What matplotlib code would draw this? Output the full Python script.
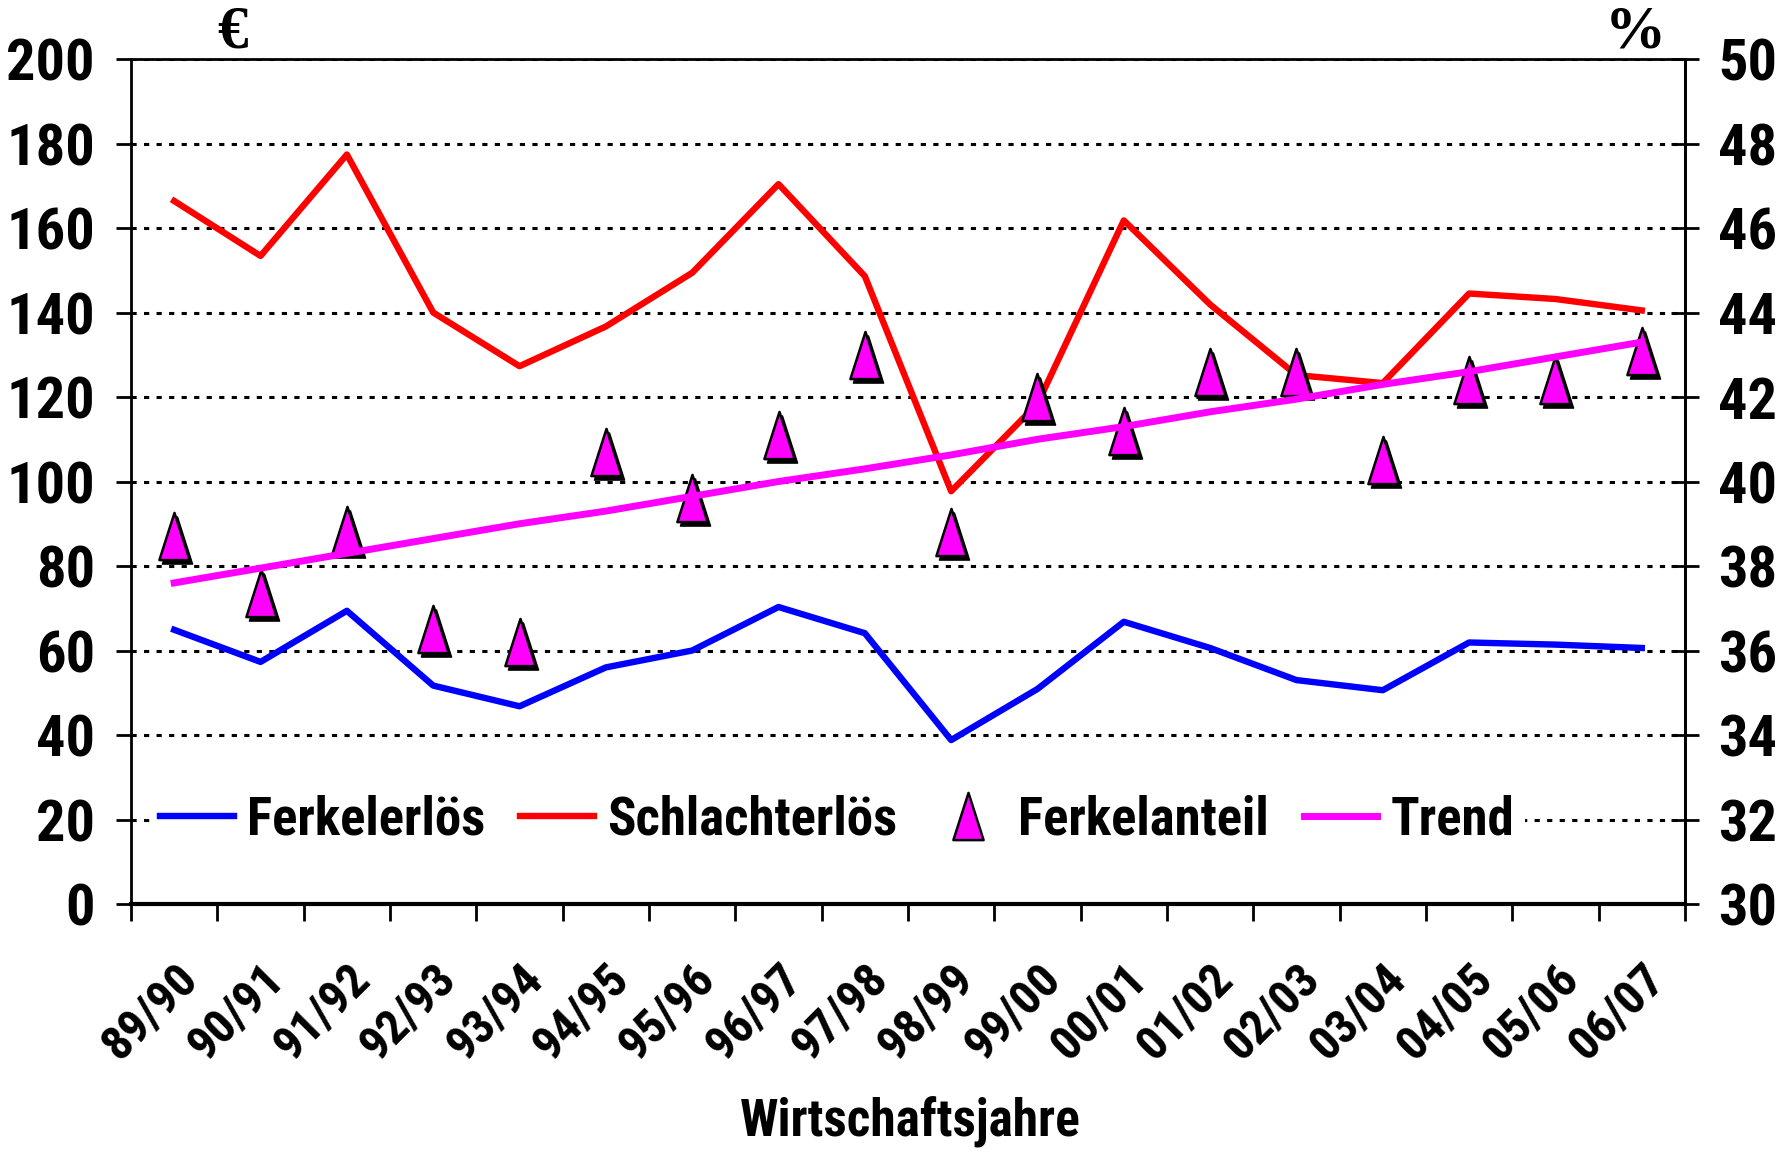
import matplotlib
matplotlib.use("Agg")
import matplotlib.pyplot as plt
import numpy as np
from matplotlib import font_manager
from matplotlib.path import Path
from matplotlib.transforms import ScaledTranslation

# Wirtschaftsjahre and values
jahre = ["89/90", "90/91", "91/92", "92/93", "93/94", "94/95", "95/96", "96/97", "97/98",
         "98/99", "99/00", "00/01", "01/02", "02/03", "03/04", "04/05", "05/06", "06/07"]
ferkelerloes = [64.9, 57.3, 69.4, 51.7, 46.8, 56.0, 60.0, 70.3, 64.1,
                38.8, 50.9, 66.8, 60.6, 53.0, 50.6, 61.9, 61.4, 60.6]
schlachterloes = [166.4, 153.4, 177.4, 140.0, 127.3, 136.7, 149.4, 170.4, 148.6,
                  97.7, 118.4, 161.8, 141.9, 125.2, 123.3, 144.5, 143.2, 140.5]
ferkelanteil = [38.7, 37.35, 38.86, 36.5, 36.2, 40.7, 39.6, 41.1, 43.0,
                38.8, 42.0, 41.2, 42.6, 42.6, 40.5, 42.4, 42.4, 43.1]
trend = [37.6, 37.95, 38.3, 38.65, 39.0, 39.3, 39.65, 40.0, 40.3,
         40.63, 41.0, 41.3, 41.65, 41.95, 42.3, 42.6, 42.95, 43.3]

# narrow bold sans like Arial Narrow, whatever is installed
names = {f.name for f in font_manager.fontManager.ttflist}
sans = "Liberation Sans"
for cand in ["Roboto Condensed", "Archivo Narrow", "Liberation Sans Narrow"]:
    if cand in names:
        sans = cand
        break
plt.rcParams["font.family"] = [sans, "DejaVu Sans"]
plt.rcParams["font.weight"] = "bold"

x = np.arange(len(jahre))

fig, ax = plt.subplots(figsize=(17.83, 11.51), dpi=100)
fig.subplots_adjust(left=0.0735, right=0.945, top=0.9487, bottom=0.2146)
ax2 = ax.twinx()

# tall narrow triangle marker
tri = Path([(-0.32, -0.5), (0.32, -0.5), (0, 0.5), (-0.32, -0.5)],
           [Path.MOVETO, Path.LINETO, Path.LINETO, Path.CLOSEPOLY])

ax.plot(x, ferkelerloes, color="#0000FF", lw=4.6, label="Ferkelerlös")
ax.plot(x, schlachterloes, color="#FF0000", lw=4.6, label="Schlachterlös")

shadow = ax2.transData + ScaledTranslation(3 / 100, -4 / 100, fig.dpi_scale_trans)
ax2.plot(x, ferkelanteil, ls="none", marker=tri, ms=34, mfc="black", mec="black",
         transform=shadow)
ax2.plot(x, ferkelanteil, ls="none", marker=tri, ms=34, mfc="#FF00FF", mec="black",
         mew=1.8, label="Ferkelanteil")
ax2.plot(x, trend, color="#FF00FF", lw=5, label="Trend")

ax.set_xlim(-0.5, len(jahre) - 0.5)
ax.set_ylim(0, 200)
ax2.set_ylim(30, 50)
ax.set_yticks(np.arange(0, 201, 20))
ax2.set_yticks(np.arange(30, 51, 2))

ax.yaxis.grid(True, linestyle=(0, (1.7, 2.4)), color="black", lw=2.2)
ax.set_axisbelow(True)

ax.set_xticks(x)
ax.set_xticklabels(jahre)
ax.set_xticks(np.arange(-0.5, len(jahre), 1), minor=True)
ax.tick_params(axis="x", which="major", length=0, pad=37, labelsize=35)
ax.tick_params(axis="x", which="minor", length=12, width=2, direction="out")
plt.setp(ax.get_xticklabels(), rotation=45, ha="right", va="top",
         rotation_mode="anchor", fontweight="bold")

ax.tick_params(axis="y", length=11, width=2, direction="out", pad=15, labelsize=42)
ax2.tick_params(axis="y", length=20, width=2, direction="inout", pad=14, labelsize=42)
for lab in ax.get_yticklabels() + ax2.get_yticklabels():
    lab.set_fontweight("bold")

for s in ["left", "top", "right"]:
    ax.spines[s].set_linewidth(2)
ax.spines["bottom"].set_linewidth(3)
for s in ["left", "top", "bottom"]:
    ax2.spines[s].set_visible(False)
ax2.spines["right"].set_linewidth(2)

h1, l1 = ax.get_legend_handles_labels()
h2, l2 = ax2.get_legend_handles_labels()
leg = ax2.legend(h1 + h2, l1 + l2, loc="center left", bbox_to_anchor=(0.012, 0.1),
                 ncol=4, fontsize=38, frameon=True, facecolor="white", edgecolor="none",
                 framealpha=1, borderaxespad=0, borderpad=0.2, handlelength=1.4,
                 handletextpad=0.25, columnspacing=0.65)
leg.get_frame().set_boxstyle("square", pad=0)

fig.text(232 / 1783, 1 - 60 / 1151, "€", ha="center", va="bottom", fontsize=44,
         family="Liberation Serif", weight="bold")
fig.text(1635 / 1783, 1 - 60 / 1151, "%", ha="center", va="bottom", fontsize=44,
         family="Liberation Serif", weight="bold")
fig.text(910 / 1783, 1 - 1122 / 1151, "Wirtschaftsjahre", ha="center", va="center",
         fontsize=37, weight="bold")

fig.savefig("out.png", dpi=100)
